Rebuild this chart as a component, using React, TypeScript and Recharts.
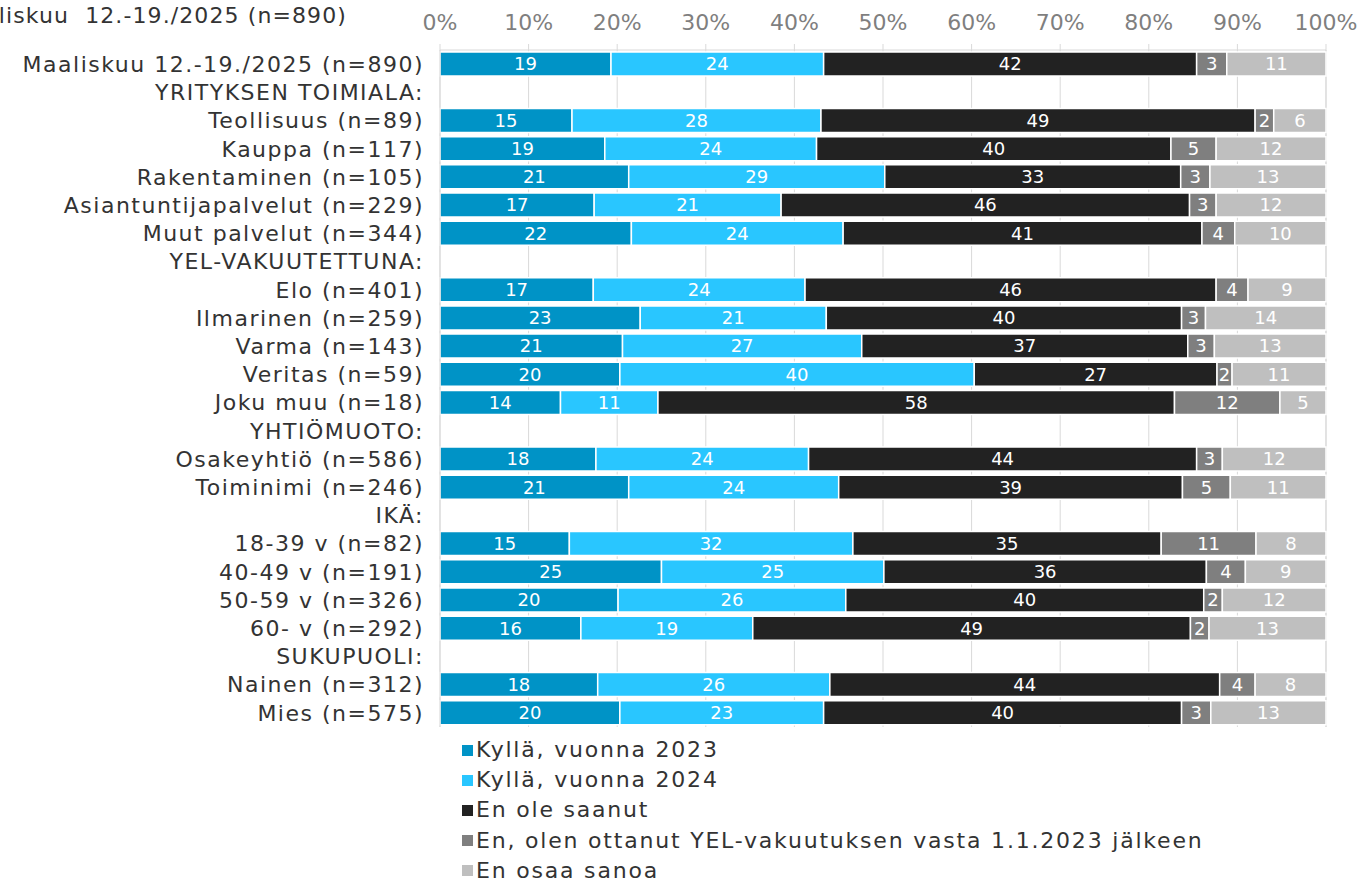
import React from "react";
import { BarChart, Bar, XAxis, YAxis, CartesianGrid, LabelList } from "recharts";

const categories = [
  "Maaliskuu 12.-19./2025 (n=890)",
  "YRITYKSEN TOIMIALA:",
  "Teollisuus (n=89)",
  "Kauppa (n=117)",
  "Rakentaminen (n=105)",
  "Asiantuntijapalvelut (n=229)",
  "Muut palvelut (n=344)",
  "YEL-VAKUUTETTUNA:",
  "Elo (n=401)",
  "Ilmarinen (n=259)",
  "Varma (n=143)",
  "Veritas (n=59)",
  "Joku muu (n=18)",
  "YHTIÖMUOTO:",
  "Osakeyhtiö (n=586)",
  "Toiminimi (n=246)",
  "IKÄ:",
  "18-39 v (n=82)",
  "40-49 v (n=191)",
  "50-59 v (n=326)",
  "60- v (n=292)",
  "SUKUPUOLI:",
  "Nainen (n=312)",
  "Mies (n=575)",
];

// values for non-header rows, in category order
const kylla2023 = [19.3, 14.9, 18.6, 21.3, 17.4, 21.6, 17.3, 22.6, 20.6, 20.3, 13.6, 17.6, 21.3, 14.6, 25.0, 20.1, 15.9, 17.8, 20.3];
const kylla2024 = [24.0, 28.1, 23.9, 28.9, 21.1, 23.9, 23.9, 21.0, 27.0, 40.0, 11.0, 24.0, 23.7, 32.0, 25.1, 25.7, 19.4, 26.2, 23.0];
const enOleSaanut = [42.1, 49.0, 40.0, 33.4, 46.1, 40.5, 46.4, 40.1, 36.8, 27.4, 58.3, 43.8, 38.8, 34.8, 36.4, 40.4, 49.4, 44.0, 40.4];
const enOttanut = [3.4, 2.1, 5.1, 3.3, 3.0, 3.7, 3.6, 2.7, 3.0, 1.7, 11.9, 2.9, 5.4, 10.7, 4.4, 2.1, 2.1, 4.0, 3.3];
const enOsaa = [11.2, 5.9, 12.4, 13.1, 12.4, 10.3, 8.8, 13.6, 12.6, 10.6, 5.2, 11.7, 10.8, 7.9, 9.1, 11.7, 13.2, 8.0, 13.0];

function expand(arr: number[]) {
  const out: (number | null)[] = [];
  let i = 0;
  categories.forEach((c) => {
    if (c.endsWith(":")) out.push(null);
    else {
      out.push(arr[i]);
      i++;
    }
  });
  return out;
}

const seriesNames = [
  "Kyllä, vuonna 2023",
  "Kyllä, vuonna 2024",
  "En ole saanut",
  "En, olen ottanut YEL-vakuutuksen vasta 1.1.2023 jälkeen",
  "En osaa sanoa",
];
const seriesColors = ["#0093C6", "#29C6FF", "#222222", "#7F7F7F", "#BFBFBF"];
const seriesKeys = ["s0", "s1", "s2", "s3", "s4"];
const seriesValues = [kylla2023, kylla2024, enOleSaanut, enOttanut, enOsaa].map(expand);

const ticks = [0, 10, 20, 30, 40, 50, 60, 70, 80, 90, 100];

const data = categories.map((name, idx) => {
  const row: any = { name };
  seriesKeys.forEach((k, s) => {
    row[k] = seriesValues[s][idx];
  });
  return row;
});

const FONT = "'DejaVu Sans', Verdana, sans-serif";

export default function App() {
  return (
    <div style={{ position: "fixed", left: 0, top: 0, width: 1365, height: 881, background: "#fff", overflow: "hidden", fontFamily: FONT }}>
      <div style={{ position: "absolute", right: 1365 - 347, top: 3, fontSize: 22, color: "#333", whiteSpace: "pre", letterSpacing: 1.1, textAlign: "right" }}>
        {"Maaliskuu  12.-19./2025 (n=890)"}
      </div>
      <BarChart
        width={1365}
        height={881}
        data={data}
        layout="vertical"
        margin={{ top: 0, right: 39, bottom: 154, left: 8 }}
        barSize={24}
      >
        <CartesianGrid horizontal={false} stroke="#d9d9d9" />
        <XAxis
          type="number"
          orientation="top"
          domain={[0, 100]}
          ticks={ticks}
          interval={0}
          height={50}
          tickFormatter={(v: number) => `${v}%`}
          tick={{ fill: "#7f7f7f", fontSize: 22, fontFamily: FONT }}
          axisLine={{ stroke: "#d9d9d9" }}
          tickLine={{ stroke: "#d9d9d9" }}
          tickSize={6}
          tickMargin={14}
        />
        <YAxis
          type="category"
          dataKey="name"
          width={432}
          interval={0}
          tickLine={false}
          tickSize={0}
          tickMargin={16}
          axisLine={{ stroke: "#d9d9d9" }}
          tick={{ fill: "#333", fontSize: 22, fontFamily: FONT, letterSpacing: 1.5 } as any}
        />
        {seriesKeys.map((k, s) => (
          <Bar key={k} dataKey={k} name={seriesNames[s]} stackId="a" fill={seriesColors[s]} stroke="#fff" strokeWidth={1.5} isAnimationActive={false}>
            <LabelList
              dataKey={k}
              position="center"
              fill="#fff"
              style={{ fontSize: 18, fontFamily: FONT }}
              formatter={(v: any) => (v === null || v === undefined ? "" : Math.round(v))}
            />
          </Bar>
        ))}
      </BarChart>
      <div style={{ position: "absolute", left: 462, top: 735 }}>
        {seriesNames.map((n, s) => (
          <div key={n} style={{ display: "flex", alignItems: "center", height: 30.2, lineHeight: "20px", fontSize: 22, color: "#333", whiteSpace: "nowrap", letterSpacing: 1.8 }}>
            <span style={{ display: "inline-block", width: 11, height: 11, background: seriesColors[s], marginRight: 3 }} />
            {n}
          </div>
        ))}
      </div>
    </div>
  );
}
